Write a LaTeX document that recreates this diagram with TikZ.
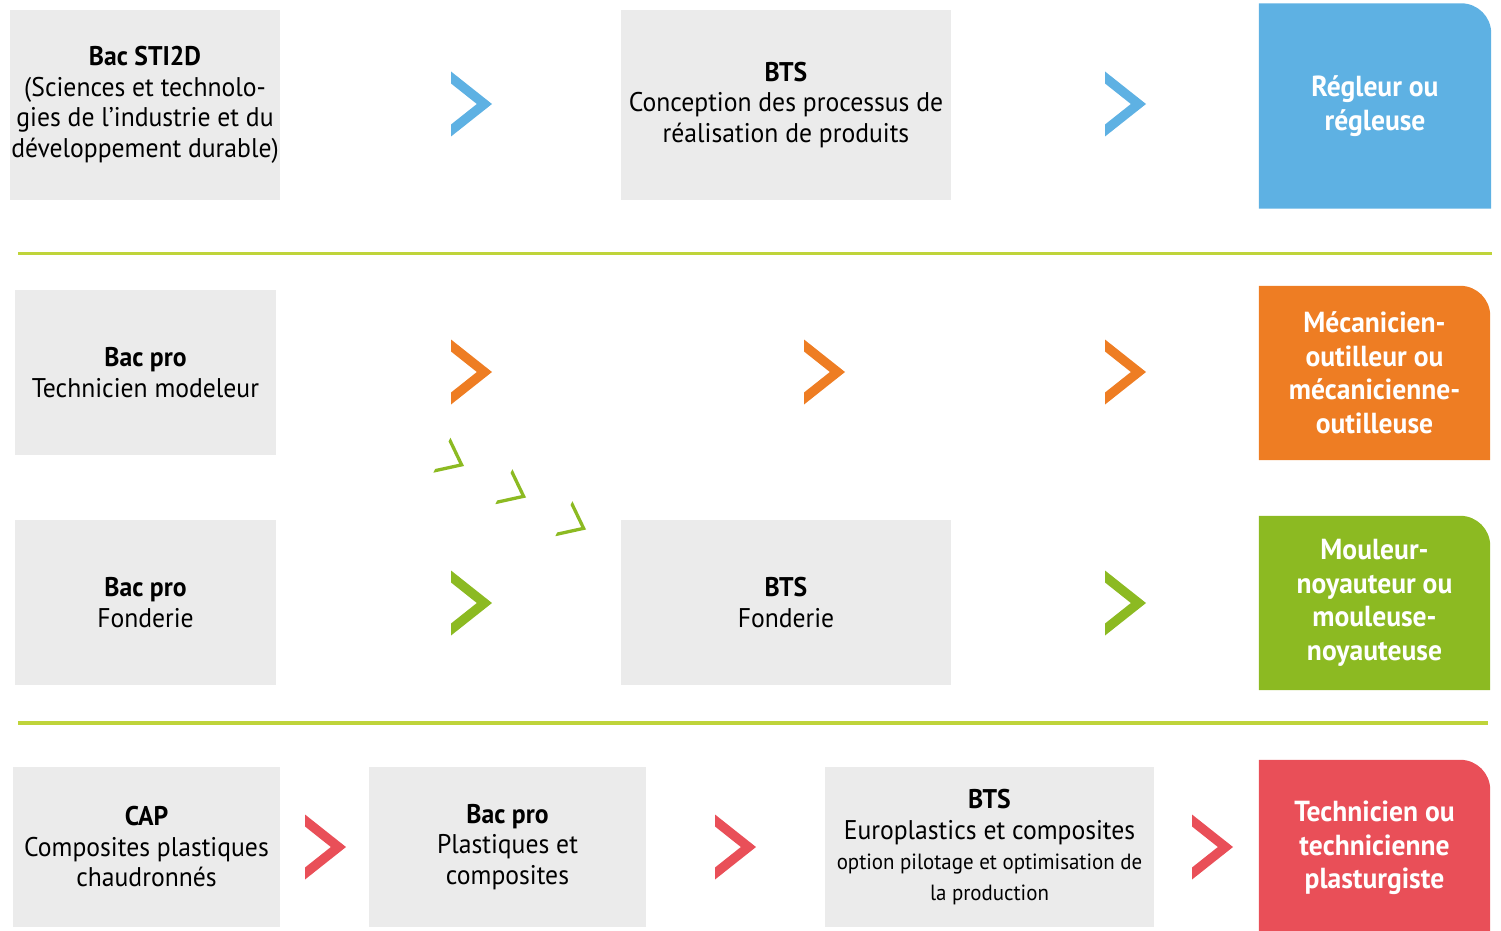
\documentclass[tikz,border=0pt]{standalone}
\usepackage{fontspec}
\setmainfont{PT Sans}[FakeStretch=0.95]
\usetikzlibrary{backgrounds}

\definecolor{cgris}{HTML}{EBEBEB}
\definecolor{cbleu}{HTML}{5EB1E3}
\definecolor{corange}{HTML}{EE7D23}
\definecolor{cvert}{HTML}{8CBA22}
\definecolor{crouge}{HTML}{E94F58}
\definecolor{cligne}{HTML}{BFD43A}

\tikzset{
  etape/.style={fill=cgris, align=center, inner sep=0pt, font=\fontsize{27}{30.5}\selectfont},
  metier/.style={align=center, inner sep=0pt, text=white, font=\bfseries\fontsize{29}{33.5}\selectfont},
  ligne/.style={draw=cligne, line width=3.5pt},
  pics/chevron/.style={code={
    \fill (-41,-32.5) -- (0,0) -- (-41,32.5) -- (-41,32.5-#1)
      -- ({-41+(32.5-#1)*41/32.5},0) -- (-41,-32.5+#1) -- cycle;
  }},
  pics/chevron/.default=12,
}

% fond colore, coin haut droit arrondi
\newcommand\fondmetier[2]{%
  \begin{pgfonlayer}{background}
    \fill[#2] (#1.south west) -- (#1.north west) -- ([xshift=-30pt]#1.north east)
      arc[start angle=90, end angle=0, radius=30pt] -- (#1.south east) -- cycle;
  \end{pgfonlayer}}

\begin{document}
\begin{tikzpicture}[x=1pt, y=-1pt]
    \useasboundingbox (0,0) rectangle (1501,931);

    % ligne 1
    \node[etape, minimum width=270, minimum height=190] (sti) at (145,105)
      {\textbf{Bac STI2D}\\(Sciences et technolo-\\gies de l’industrie et du\\développement durable)};
    \node[etape, minimum width=330, minimum height=190] (btscp) at (786,105)
      {\textbf{BTS}\\Conception des processus de\\réalisation de produits};
    \node[metier, minimum width=232, minimum height=205] (regleur) at (1375,106)
      {Régleur ou\\régleuse};
    \fondmetier{regleur}{cbleu}
    \pic[cbleu] at (492,104) {chevron};
    \pic[cbleu] at (1146,104) {chevron};

    \draw[ligne] (18,253.5) -- (1492,253.5);

    % lignes 2 et 3
    \node[etape, minimum width=261, minimum height=165] (modeleur) at (145.5,372.5)
      {\textbf{Bac pro}\\Technicien modeleur};
    \node[etape, minimum width=261, minimum height=165] (fonderie) at (145.5,602.5)
      {\textbf{Bac pro}\\Fonderie};
    \node[etape, minimum width=330, minimum height=165] (btsfond) at (786,602.5)
      {\textbf{BTS}\\Fonderie};
    \node[metier, minimum width=231, minimum height=174] (outilleur) at (1374.5,373)
      {Mécanicien-\\outilleur ou\\mécanicienne-\\outilleuse};
    \fondmetier{outilleur}{corange}
    \node[metier, minimum width=231, minimum height=174] (mouleur) at (1374.5,603)
      {Mouleur-\\noyauteur ou\\mouleuse-\\noyauteuse};
    \fondmetier{mouleur}{cvert}
    \pic[corange] at (492,372) {chevron};
    \pic[corange] at (845,372) {chevron};
    \pic[corange] at (1146,372) {chevron};
    \pic[cvert] at (492,603) {chevron};
    \pic[cvert] at (1146,603) {chevron};
    \pic[cvert, scale=0.6, rotate=-26] at (464,466) {chevron=7};
    \pic[cvert, scale=0.6, rotate=-26] at (526,497.5) {chevron=7};
    \pic[cvert, scale=0.6, rotate=-26] at (586,529.5) {chevron=7};

    \draw[ligne] (18,723) -- (1488,723);

    % ligne 4
    \node[etape, minimum width=267, minimum height=160] (cap) at (146.5,847)
      {\textbf{CAP}\\Composites plastiques\\chaudronnés};
    \node[etape, minimum width=277, minimum height=160] (plast) at (507.5,847)
      {\textbf{Bac pro}\\Plastiques et\\composites};
    \node[etape, minimum width=329, minimum height=160] (europ) at (989.5,847)
      {\textbf{BTS}\\Europlastics et composites\\{\fontsize{22}{29.5}\selectfont option pilotage et optimisation de}\\{\fontsize{22}{29.5}\selectfont la production}};
    \node[metier, minimum width=231, minimum height=176] (plasturg) at (1374.5,848)
      {Technicien ou\\technicienne\\plasturgiste};
    \fondmetier{plasturg}{crouge}
    \pic[crouge] at (346,847) {chevron};
    \pic[crouge] at (756,847) {chevron};
    \pic[crouge] at (1233,847) {chevron};
\end{tikzpicture}
\end{document}
